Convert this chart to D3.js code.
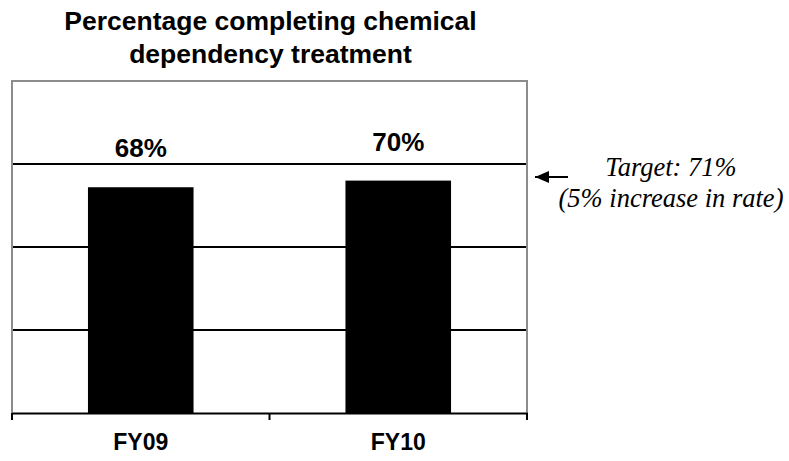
<!DOCTYPE html>
<html>
<head>
<meta charset="utf-8">
<script src="https://cdn.jsdelivr.net/npm/d3@7"></script>
<style>
	body { margin:0; background:#fff; }
	.sans { font-family: Arial, "Liberation Sans", sans-serif; }
	.serif { font-family: "Liberation Serif", "Times New Roman", serif; font-style: italic; }
</style>
</head>
<body>
<div id="chart"></div>
<script>

//data
const categories = ["FY09", "FY10"];
const values = [68, 70];
const gridTicks = [25, 50, 75];
const titleLines = ["Percentage completing chemical", "dependency treatment"];
const targetLines = ["Target: 71%", "(5% increase in rate)"];

function graph(){

	//sizing
	let margin = {top:81, right:262, bottom:48, left:12};
	let width = 789;
	let height = 461;

	//initiate svg
	let svg = d3.select("#chart")
		.append("svg")
		.attr("width", width)
		.attr("height", height);

	//scales
	const xScale = d3.scaleBand()
		.domain(categories)
		.range([margin.left, width-margin.right])
		.paddingInner(0.59)
		.paddingOuter(0.295);

	const yScale = d3.scaleLinear()
		.domain([0,100])
		.range([height-margin.bottom, margin.top]);

	//gridlines
	svg.selectAll(".grid")
		.data(gridTicks)
		.enter()
		.append("line")
		.attr("class", "grid")
		.attr("x1", margin.left)
		.attr("x2", width-margin.right)
		.attr("y1", (d)=>{return yScale(d);})
		.attr("y2", (d)=>{return yScale(d);})
		.attr("stroke", "#000")
		.attr("stroke-width", 2);

	//frame (top, left, right)
	svg.append("path")
		.attr("d", `M${margin.left},${yScale(0)}V${yScale(100)}H${width-margin.right}V${yScale(0)}`)
		.attr("fill", "none")
		.attr("stroke", "#8c8c8c")
		.attr("stroke-width", 2);

	//bars
	svg.selectAll(".bar")
		.data(values)
		.enter()
		.append("rect")
		.attr("class", "bar")
		.attr("x", (d,i)=>{return xScale(categories[i]);})
		.attr("width", xScale.bandwidth())
		.attr("y", (d)=>{return yScale(d);})
		.attr("height", (d)=>{return yScale(0)-yScale(d);})
		.attr("fill", "#000");

	//value labels
	svg.selectAll(".value")
		.data(values)
		.enter()
		.append("text")
		.attr("class", "value sans")
		.attr("x", (d,i)=>{return xScale(categories[i])+xScale.bandwidth()/2;})
		.attr("y", (d)=>{return yScale(d)-30;})
		.attr("text-anchor", "middle")
		.attr("font-weight", "bold")
		.attr("font-size", 26)
		.text((d)=>{return d+"%";});

	//x axis
	const xAxis = d3.axisBottom(xScale)
		.tickSize(0)
		.tickPadding(21);

	svg.append("g")
		.attr("class", "axis x_axis")
		.attr("transform", `translate(0,${yScale(0)})`)
		.call(xAxis);

	svg.select(".x_axis .domain")
		.attr("stroke", "#000")
		.attr("stroke-width", 2);

	svg.select(".x_axis")
		.selectAll("text")
		.attr("class", "sans")
		.attr("font-family", null)
		.attr("font-weight", "bold")
		.attr("font-size", 23)
		.attr("fill", "#000");

	//category boundary ticks
	let bounds = [margin.left, width-margin.right];
	categories.slice(1).forEach((c)=>{
		bounds.push(xScale(c)-xScale.step()*xScale.paddingInner()/2);
	});
	svg.selectAll(".btick")
		.data(bounds)
		.enter()
		.append("line")
		.attr("class", "btick")
		.attr("x1", (d)=>{return d;})
		.attr("x2", (d)=>{return d;})
		.attr("y1", yScale(0))
		.attr("y2", yScale(0)+7)
		.attr("stroke", "#000")
		.attr("stroke-width", 2);

	//title
	svg.selectAll(".title")
		.data(titleLines)
		.enter()
		.append("text")
		.attr("class", "title sans")
		.attr("x", (margin.left+width-margin.right)/2+1)
		.attr("y", (d,i)=>{return 30+i*33;})
		.attr("text-anchor", "middle")
		.attr("font-weight", "bold")
		.attr("font-size", 26.5)
		.text((d)=>{return d;});

	//target annotation
	svg.append("defs")
		.append("marker")
		.attr("id", "arrow")
		.attr("viewBox", "0 0 14 12")
		.attr("refX", 0)
		.attr("refY", 6)
		.attr("markerWidth", 14)
		.attr("markerHeight", 12)
		.attr("markerUnits", "userSpaceOnUse")
		.attr("orient", "auto")
		.append("path")
		.attr("d", "M0,6L14,0L14,12Z")
		.attr("fill", "#000");

	svg.append("line")
		.attr("x1", 535)
		.attr("x2", 568)
		.attr("y1", 177)
		.attr("y2", 177)
		.attr("stroke", "#000")
		.attr("stroke-width", 2)
		.attr("marker-start", "url(#arrow)");

	svg.selectAll(".target")
		.data(targetLines)
		.enter()
		.append("text")
		.attr("class", "target serif")
		.attr("x", 671)
		.attr("y", (d,i)=>{return 176+i*31;})
		.attr("text-anchor", "middle")
		.attr("font-size", 26.5)
		.text((d)=>{return d;});

}

graph();
</script>
</body>
</html>
